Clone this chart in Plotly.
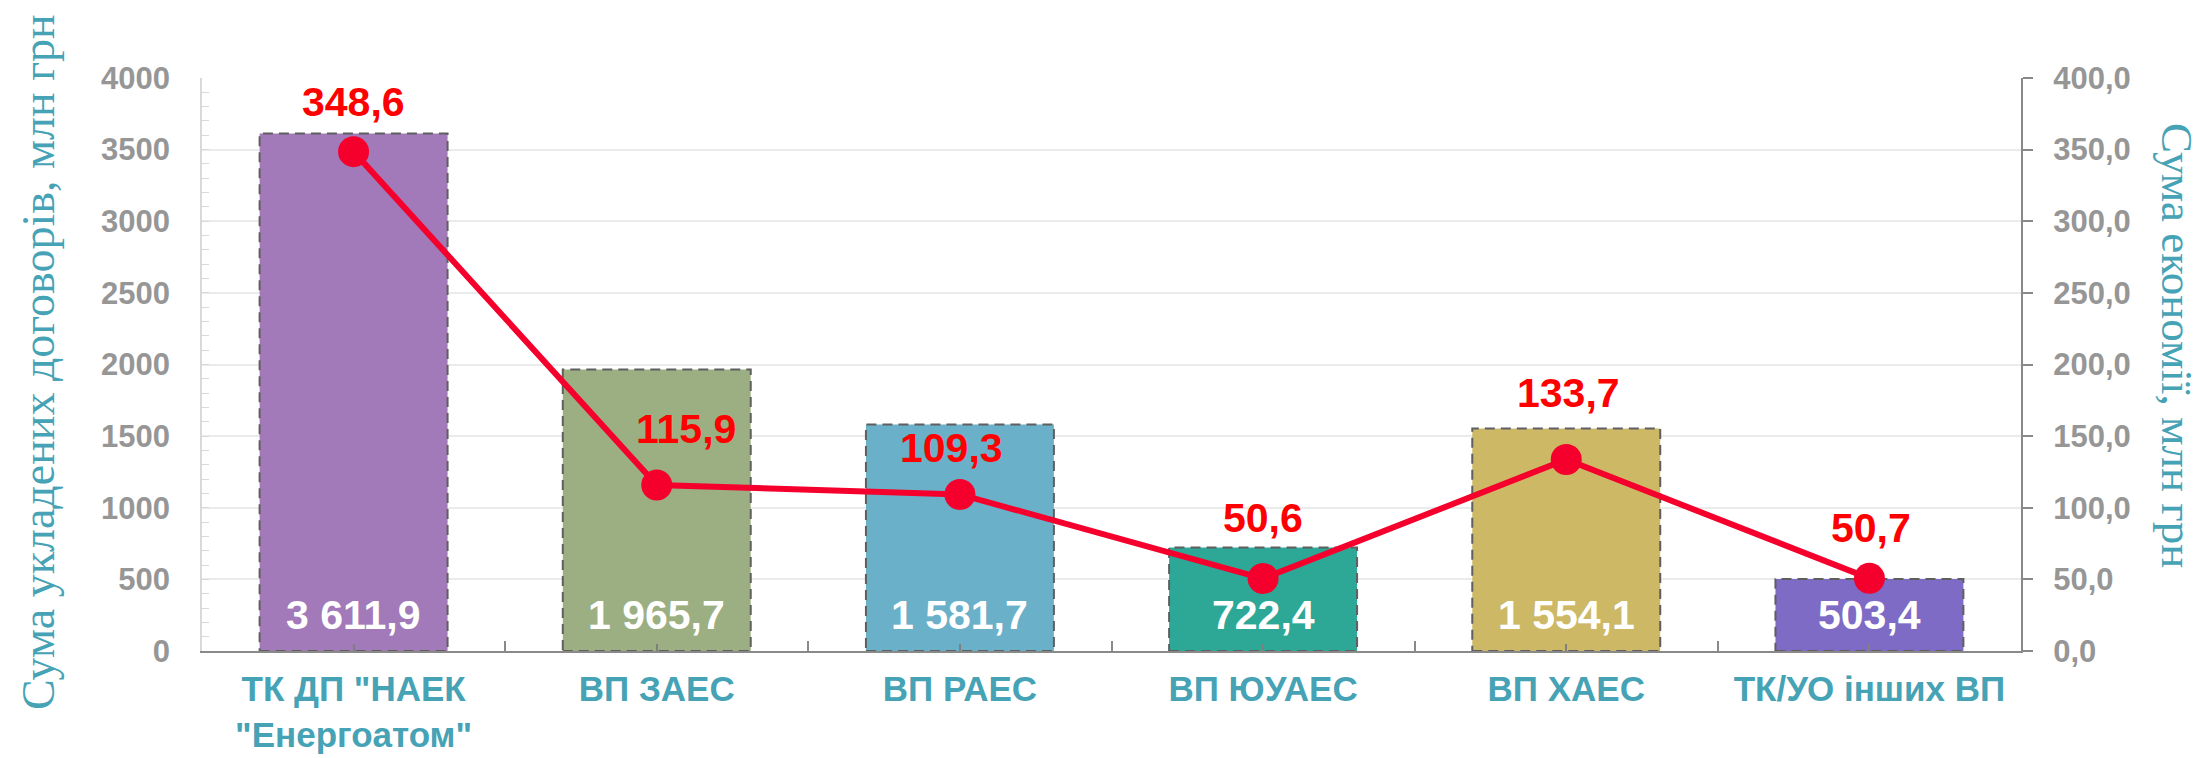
import plotly.graph_objects as go

# ---- data ----
categories = ['ТК ДП "НАЕК<br>"Енергоатом"', 'ВП ЗАЕС', 'ВП РАЕС', 'ВП ЮУАЕС', 'ВП ХАЕС', 'ТК/УО інших ВП']
contracts = [3611.9, 1965.7, 1581.7, 722.4, 1554.1, 503.4]
savings = [348.6, 115.9, 109.3, 50.6, 133.7, 50.7]
left_title = 'Сума укладених договорів, млн грн'
right_title = 'Сума економії, млн грн'

# ---- style ----
bar_colors = ['#A279B9', '#9CAF83', '#6AB0C8', '#2DA897', '#CDB866', '#7D6BC5']
red_line = '#F5002D'
label_red = '#FF0000'
teal = '#46A2B5'
gray_tick = '#969696'
bar_w = 0.62
# pixel offsets of the red value labels relative to their points (x, y)
red_offsets = [(0, 50), (29, 56), (-8, 46), (0, 61), (2, 66), (2, 50)]
white_shift = 36

def fmt(v):
    return f"{v:,.1f}".replace(',', ' ').replace('.', ',')

idx = list(range(len(categories)))

fig = go.Figure()
fig.add_trace(go.Bar(x=idx, y=contracts, width=bar_w, marker=dict(color=bar_colors, line=dict(width=0)),
                     yaxis='y', hoverinfo='skip'))

# dashed outlines of the bars
bx, by = [], []
for i, v in zip(idx, contracts):
    bx += [i - bar_w / 2, i + bar_w / 2, i + bar_w / 2, i - bar_w / 2, i - bar_w / 2, None]
    by += [0, 0, v, v, 0, None]
fig.add_trace(go.Scatter(x=bx, y=by, mode='lines', yaxis='y',
                         line=dict(color='#5F5F5F', width=2, dash='10px,6px'), hoverinfo='skip'))

fig.add_trace(go.Scatter(x=idx, y=savings, yaxis='y2', mode='lines+markers',
                         line=dict(color=red_line, width=6), marker=dict(size=31, color=red_line)))

annotations = []
for i, v in zip(idx, contracts):
    annotations.append(dict(x=i, y=0, xref='x', yref='y', text=fmt(v), showarrow=False,
                            yanchor='middle', yshift=white_shift,
                            font=dict(family='Liberation Sans, Arial', size=41, color='white', weight='bold')))
for i, v, (dx, dy) in zip(idx, savings, red_offsets):
    annotations.append(dict(x=i, y=v, xref='x', yref='y2', text=fmt(v), showarrow=False,
                            yanchor='middle', xshift=dx, yshift=dy,
                            font=dict(family='Liberation Sans, Arial', size=41, color=label_red, weight='bold')))

plot_l, plot_r, plot_t, plot_b = 202, 2021, 78, 651
pw, ph = plot_r - plot_l, plot_b - plot_t
annotations.append(dict(x=(38 - plot_l) / pw, y=(plot_b - 362) / ph, xref='paper', yref='paper',
                        text=left_title, showarrow=False, textangle=-90, xanchor='center', yanchor='middle',
                        font=dict(family='Liberation Serif, Times New Roman', size=46, color=teal)))
annotations.append(dict(x=(2177 - plot_l) / pw, y=(plot_b - 345) / ph, xref='paper', yref='paper',
                        text=right_title, showarrow=False, textangle=90, xanchor='center', yanchor='middle',
                        font=dict(family='Liberation Serif, Times New Roman', size=45, color=teal)))

fig.update_layout(
    width=2208, height=758,
    margin=dict(l=plot_l, r=2208 - plot_r, t=plot_t, b=758 - plot_b, autoexpand=False),
    paper_bgcolor='white', plot_bgcolor='white',
    showlegend=False, separators=', ',
    annotations=annotations,
    xaxis=dict(range=[-0.5, len(categories) - 0.5], tickmode='array', tickvals=idx, ticktext=categories,
               automargin=False,
               ticks='inside', ticklen=7, tickcolor='#7F7F7F', tickwidth=1.5,
               showline=True, linecolor='#898989', linewidth=2, showgrid=False, zeroline=False,
               ticklabelstandoff=6,
               minor=dict(tickmode='array', tickvals=[i + 0.5 for i in idx[:-1]], ticks='inside',
                          ticklen=10, tickcolor='#898989', tickwidth=1.5, showgrid=False),
               tickfont=dict(family='Liberation Sans, Arial', size=35, color=teal, weight='bold')),
    yaxis=dict(range=[0, 4000], dtick=500, showgrid=True, gridcolor='#EBEBEB', gridwidth=1.5,
               automargin=False,
               showline=True, linecolor='#D9D9D9', linewidth=1.5, zeroline=False,
               ticks='inside', ticklen=7, tickcolor='#D9D9D9', ticklabelstandoff=24,
               minor=dict(dtick=100, ticks='inside', ticklen=7, tickcolor='#D9D9D9', showgrid=False),
               tickfont=dict(family='Liberation Sans, Arial', size=31, color=gray_tick, weight='bold')),
    yaxis2=dict(range=[0, 400], dtick=50, tickformat='.1f', overlaying='y', side='right',
                automargin=False,
                showgrid=False, zeroline=False, showline=True, linecolor='#898989', linewidth=2,
                ticks='outside', ticklen=10, tickcolor='#898989', tickwidth=2, ticklabelstandoff=14,
                tickfont=dict(family='Liberation Sans, Arial', size=31, color=gray_tick, weight='bold')),
)

fig.write_html("out.html", config={'displayModeBar': False},
               post_script="document.body.style.margin='0';")
